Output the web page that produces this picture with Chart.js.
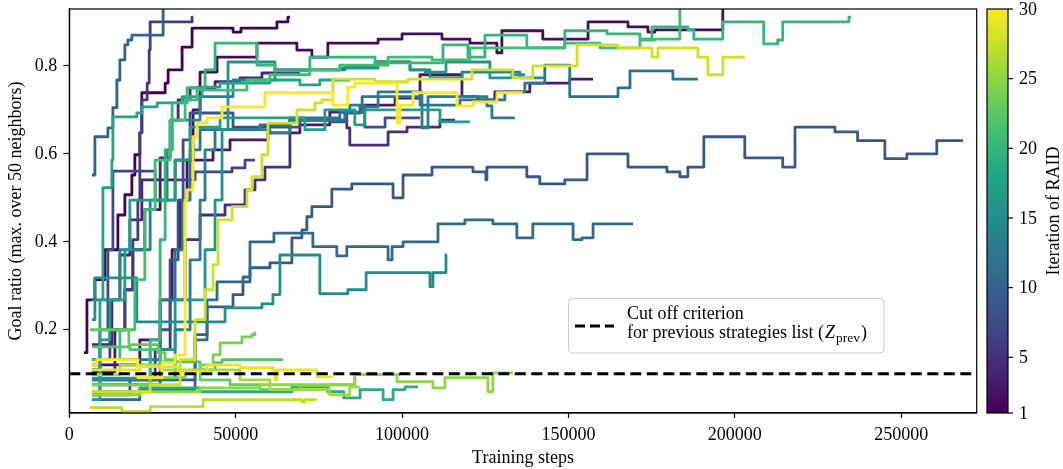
<!DOCTYPE html>
<html>
<head>
<meta charset="utf-8">
<script src="https://cdn.jsdelivr.net/npm/chart.js@4.4.1/dist/chart.umd.min.js"></script>
<style>
  html, body { margin: 0; padding: 0; background: #fff; }
  #wrap { width: 1063px; height: 469px; }
</style>
</head>
<body>
<div id="wrap"><canvas id="goalChart" width="1063" height="469"></canvas></div>
<script>
// one run per RAID iteration: [training steps (thousands), goal ratio] at each change
const run01 = [[4.4,0.148],[5.3,0.268],[7.7,0.314],[10.7,0.382],[14.6,0.461],[16.7,0.507],[18.8,0.552],[19.7,0.598],[21.2,0.648],[21.8,0.739],[28.8,0.761],[29.7,0.791],[33.9,0.843],[36.9,0.886],[49.2,0.877],[51.6,0.886],[62.4,0.900],[65.7,0.911],[66.3,0.911]];
const run02 = [[6.8,0.120],[21.2,0.177],[27.3,0.268],[30.9,0.382],[33.3,0.495],[35.4,0.586],[37.2,0.700],[39.3,0.786],[44.4,0.820],[56.4,0.852],[68.4,0.836],[72.9,0.820],[77.7,0.852],[92.8,0.861],[100.0,0.873],[112.0,0.861],[120.4,0.852],[128.5,0.830],[130.0,0.880],[142.3,0.861],[155.9,0.900],[167.9,0.889],[173.9,0.877],[176.0,0.882],[196.4,0.950],[196.5,0.950]];
const run03 = [[6.8,0.105],[13.7,0.200],[16.7,0.291],[19.1,0.382],[22.7,0.473],[27.3,0.541],[31.8,0.586],[43.2,0.609],[48.3,0.632],[59.7,0.648],[69.3,0.666],[78.3,0.695],[88.8,0.711],[97.9,0.727],[105.4,0.780],[118.0,0.730],[122.8,0.723],[127.9,0.741],[138.4,0.761],[150.4,0.770],[157.4,0.770]];
const run04 = [[6.8,0.166],[12.8,0.268],[15.2,0.370],[18.2,0.450],[21.8,0.541],[27.3,0.591],[30.3,0.677],[32.7,0.723],[36.3,0.750],[43.8,0.764],[51.3,0.773],[57.9,0.784],[69.3,0.784]];
const run05 = [[6.8,0.086],[25.8,0.155],[30.3,0.268],[34.8,0.405],[39.3,0.461],[46.8,0.484],[52.8,0.518],[55.8,0.541],[58.8,0.570],[66.3,0.677],[83.4,0.659],[84.3,0.620],[95.8,0.650],[101.5,0.661],[111.4,0.677],[115.9,0.677]];
const run06 = [[6.8,0.132],[12.2,0.200],[16.7,0.291],[19.1,0.405],[20.6,0.495],[21.2,0.648],[21.8,0.723],[23.4,0.761],[24.0,0.836],[24.3,0.900],[36.9,0.911],[37.2,0.911]];
const run07 = [[6.8,0.052],[9.2,0.200],[11.6,0.382],[13.1,0.561],[25.8,0.495],[31.8,0.541],[37.8,0.559],[48.9,0.568],[52.8,0.586],[55.8,0.586]];
const run08 = [[6.8,0.075],[27.3,0.200],[30.3,0.359],[32.7,0.495],[34.2,0.632],[36.3,0.693],[49.2,0.661],[69.3,0.677],[78.3,0.673],[83.4,0.693],[87.4,0.711],[88.8,0.661],[94.9,0.682],[105.4,0.682]];
const run09 = [[6.8,0.052],[18.2,0.086],[37.8,0.189],[41.4,0.252],[49.2,0.280],[52.2,0.309],[54.3,0.341],[60.3,0.352],[66.9,0.409],[69.9,0.427],[71.4,0.457],[72.9,0.480],[78.9,0.520],[84.9,0.532],[97.3,0.500],[100.3,0.552],[109.0,0.570],[121.3,0.559],[125.2,0.541],[125.5,0.570],[137.5,0.548],[141.4,0.532],[148.9,0.541],[155.6,0.600],[167.9,0.570],[179.6,0.559],[183.5,0.548],[185.9,0.570],[190.7,0.639],[203.0,0.591],[214.4,0.570],[218.1,0.661],[230.1,0.650],[236.9,0.630],[245.1,0.589],[251.7,0.600],[260.7,0.630],[268.6,0.630]];
const run10 = [[6.8,0.552],[7.7,0.639],[11.6,0.659],[13.1,0.705],[14.3,0.768],[15.2,0.814],[16.7,0.848],[17.6,0.859],[18.8,0.870],[28.2,0.930],[28.3,0.930]];
const run11 = [[6.8,0.041],[21.2,0.064],[37.8,0.177],[41.4,0.268],[44.4,0.309],[52.2,0.320],[54.3,0.400],[61.5,0.420],[73.2,0.389],[80.4,0.368],[83.4,0.389],[95.8,0.359],[97.0,0.389],[100.3,0.400],[110.8,0.441],[118.9,0.450],[127.3,0.441],[134.5,0.409],[139.3,0.441],[151.4,0.405],[154.1,0.409],[157.4,0.441],[169.4,0.441]];
const run12 = [[6.8,0.132],[27.3,0.268],[31.8,0.382],[33.9,0.495],[36.3,0.609],[39.3,0.655],[57.3,0.666],[66.3,0.682],[81.3,0.695],[88.0,0.730],[105.4,0.711],[117.4,0.723],[130.9,0.741],[136.9,0.761],[142.9,0.802],[150.4,0.730],[164.9,0.750],[168.5,0.789],[181.4,0.770],[188.9,0.770]];
const run13 = [[6.8,0.086],[31.8,0.200],[36.3,0.359],[39.3,0.495],[40.8,0.609],[43.8,0.655],[60.3,0.648],[66.3,0.677],[82.8,0.695],[84.3,0.711],[88.0,0.707],[92.8,0.741],[106.0,0.659],[107.8,0.730],[125.5,0.709],[127.0,0.682],[133.9,0.682]];
const run14 = [[6.8,0.268],[15.2,0.382],[24.3,0.495],[29.4,0.609],[30.9,0.677],[39.3,0.730],[49.2,0.768],[61.8,0.791],[82.8,0.798],[91.9,0.809],[102.4,0.791],[108.4,0.773],[118.0,0.786],[135.4,0.773],[142.9,0.773]];
const run15 = [[6.8,0.223],[7.7,0.318],[20.3,0.218],[46.8,0.250],[57.9,0.259],[61.2,0.280],[63.3,0.370],[75.3,0.282],[83.7,0.291],[89.2,0.330],[108.4,0.298],[109.3,0.330],[113.2,0.370],[113.5,0.370]];
const run16 = [[6.8,0.090],[24.3,0.155],[31.8,0.268],[40.8,0.382],[43.8,0.495],[45.9,0.655],[47.7,0.809],[61.8,0.791],[81.3,0.795],[92.8,0.809],[102.4,0.791],[106.9,0.786],[113.2,0.809],[126.4,0.773],[133.0,0.780],[136.9,0.780]];
const run17 = [[6.8,0.110],[9.2,0.177],[12.2,0.268],[16.7,0.382],[18.2,0.495],[31.8,0.586],[36.3,0.661],[45.3,0.682],[70.8,0.655],[76.8,0.700],[85.8,0.666],[88.8,0.700],[111.4,0.673],[120.4,0.673]];
const run18 = [[6.8,0.041],[9.2,0.268],[10.1,0.523],[12.8,0.586],[13.1,0.684],[20.3,0.693],[21.8,0.707],[26.4,0.716],[33.9,0.730],[39.9,0.752],[45.3,0.761],[60.3,0.768],[69.3,0.757],[75.3,0.768],[84.3,0.768]];
const run19 = [[6.8,0.059],[21.2,0.068],[39.3,0.059],[66.9,0.070],[77.7,0.059],[82.5,0.045],[87.4,0.064],[94.3,0.041],[97.3,0.064],[100.9,0.070],[104.8,0.070]];
const run20 = [[6.8,0.059],[24.3,0.177],[27.3,0.405],[28.8,0.609],[30.9,0.716],[35.4,0.750],[40.8,0.791],[43.8,0.852],[56.4,0.802],[61.8,0.789],[72.3,0.820],[91.9,0.807],[112.3,0.848],[119.8,0.820],[124.9,0.870],[137.5,0.841],[148.9,0.880],[161.6,0.873],[171.5,0.861],[175.1,0.889],[185.9,0.882],[187.7,0.861],[196.4,0.900],[208.7,0.850],[212.9,0.859],[214.4,0.900],[234.3,0.911],[234.9,0.911]];
const run21 = [[6.8,0.132],[15.2,0.200],[19.7,0.314],[22.7,0.473],[25.8,0.586],[30.3,0.677],[34.8,0.723],[38.4,0.745],[53.4,0.768],[60.3,0.780],[72.3,0.791],[81.3,0.802],[95.8,0.820],[109.0,0.814],[120.4,0.841],[148.9,0.852],[159.5,0.841],[171.5,0.859],[176.0,0.861],[183.5,0.950],[183.6,0.950]];
const run22 = [[6.8,0.161],[18.2,0.155],[27.3,0.127],[39.3,0.109],[43.8,0.125],[45.9,0.132],[64.2,0.132]];
const run23 = [[6.2,0.200],[17.9,0.166],[26.7,0.148],[28.8,0.132],[31.8,0.105],[39.3,0.086],[48.3,0.075],[57.3,0.064],[69.3,0.073],[78.3,0.075],[85.8,0.098],[99.4,0.098]];
const run24 = [[6.8,0.075],[24.3,0.091],[34.8,0.105],[39.3,0.120],[43.2,0.143],[45.3,0.170],[51.9,0.184],[54.9,0.189],[55.8,0.193],[56.1,0.193]];
const run25 = [[6.8,0.052],[21.2,0.059],[39.3,0.068],[57.3,0.075],[84.3,0.070],[85.8,0.098],[98.5,0.082],[109.3,0.068],[112.9,0.091],[125.8,0.059],[127.3,0.102],[133.3,0.102]];
const run26 = [[6.8,0.098],[15.2,0.120],[27.3,0.109],[51.3,0.086],[60.3,0.064],[78.3,0.052],[84.3,0.070],[87.4,0.070]];
const run27 = [[6.2,0.023],[15.8,0.014],[24.3,0.025],[40.2,0.041],[69.9,0.036],[70.8,0.041],[74.4,0.041]];
const run28 = [[6.8,0.059],[24.3,0.075],[33.3,0.132],[37.8,0.223],[40.8,0.291],[43.2,0.348],[44.7,0.450],[48.9,0.480],[53.4,0.518],[54.9,0.548],[57.9,0.598],[59.7,0.670],[68.4,0.700],[73.8,0.716],[75.9,0.723],[79.2,0.770],[91.9,0.764],[101.8,0.770],[121.0,0.791],[133.3,0.773],[139.3,0.800],[152.6,0.848],[164.9,0.841],[175.1,0.820],[176.9,0.841],[188.9,0.820],[191.9,0.780],[196.4,0.820],[203.0,0.820]];
const run29 = [[6.8,0.109],[21.2,0.116],[32.7,0.105],[41.4,0.120],[51.3,0.114],[61.2,0.109],[61.8,0.086],[62.4,0.109],[74.4,0.093],[79.2,0.093]];
const run30 = [[6.8,0.120],[8.3,0.132],[20.6,0.091],[27.9,0.125],[31.8,0.143],[34.8,0.495],[35.4,0.518],[37.2,0.639],[38.4,0.670],[41.4,0.682],[45.9,0.707],[58.8,0.739],[79.2,0.711],[83.7,0.752],[85.8,0.761],[98.5,0.670],[99.4,0.711],[103.3,0.739],[116.5,0.709],[121.3,0.718],[128.5,0.739],[136.3,0.739]];

const runs = [run01, run02, run03, run04, run05, run06, run07, run08, run09, run10,
              run11, run12, run13, run14, run15, run16, run17, run18, run19, run20,
              run21, run22, run23, run24, run25, run26, run27, run28, run29, run30];
const iterations = [1, 2, 3, 4, 5, 6, 7, 8, 9, 10, 11, 12, 13, 14, 15, 16, 17, 18, 19, 20,
                    21, 22, 23, 24, 25, 26, 27, 28, 29, 30];
const cutoffRatio = 0.1;
const xTicks = [0, 50000, 100000, 150000, 200000, 250000];
const yTicks = [0.2, 0.4, 0.6, 0.8];
const cbTicks = [1, 5, 10, 15, 20, 25, 30];

const xMax = 272700;
const FONT = "'Liberation Serif', 'Times New Roman', serif";

// viridis colormap
const viridisStops = ['#440154', '#482475', '#414487', '#355f8d', '#2a788e', '#21918c',
                      '#22a884', '#44bf70', '#7ad151', '#bddf26', '#fde725'];
function hexRgb(h) {
    return [parseInt(h.slice(1, 3), 16), parseInt(h.slice(3, 5), 16), parseInt(h.slice(5, 7), 16)];
}
function viridis(t) {
    t = Math.min(1, Math.max(0, t));
    const p = t * (viridisStops.length - 1);
    const k = Math.min(Math.floor(p), viridisStops.length - 2);
    const f = p - k;
    const a = hexRgb(viridisStops[k]), b = hexRgb(viridisStops[k + 1]);
    const c = a.map((v, j) => Math.round(v + (b[j] - v) * f));
    return 'rgb(' + c.join(',') + ')';
}
function iterColor(i) { return viridis((i - 1) / 29); }

const datasets = runs.map((run, k) => ({
    label: 'Iteration ' + iterations[k],
    data: run.map(p => ({ x: p[0] * 1000, y: p[1] })),
    borderColor: iterColor(iterations[k]),
    borderWidth: 2.8,
    borderJoinStyle: 'round',
    stepped: true,
    pointRadius: 0,
    fill: false,
    order: 31 - iterations[k]
}));
datasets.push({
    label: 'Cut off criterion',
    data: [{ x: 0, y: cutoffRatio }, { x: xMax, y: cutoffRatio }],
    borderColor: '#000',
    borderWidth: 2.8,
    borderDash: [11, 5.5],
    pointRadius: 0,
    fill: false,
    order: 0
});

const overlay = {
    id: 'overlay',
    afterDraw(chart) {
        const ctx = chart.ctx;
        const a = chart.chartArea;
        ctx.save();

        // axes frame
        ctx.strokeStyle = '#000';
        ctx.lineWidth = 1.2;
        ctx.strokeRect(a.left, a.top, a.right - a.left, a.bottom - a.top);

        // colorbar
        const cbL = a.right + 10.3, cbW = 21, cbT = a.top, cbB = a.bottom;
        const grad = ctx.createLinearGradient(0, cbB, 0, cbT);
        for (let k = 0; k <= 40; k++) grad.addColorStop(k / 40, viridis(k / 40));
        ctx.fillStyle = grad;
        ctx.fillRect(cbL, cbT, cbW, cbB - cbT);
        ctx.strokeRect(cbL, cbT, cbW, cbB - cbT);
        ctx.font = '18px ' + FONT;
        ctx.fillStyle = '#000';
        ctx.textAlign = 'left';
        ctx.textBaseline = 'middle';
        cbTicks.forEach(v => {
            const y = cbB - (v - 1) / 29 * (cbB - cbT);
            ctx.beginPath();
            ctx.moveTo(cbL + cbW, y);
            ctx.lineTo(cbL + cbW + 5, y);
            ctx.stroke();
            ctx.fillText(String(v), cbL + cbW + 11, y + 1);
        });
        ctx.save();
        ctx.translate(cbL + cbW + 46, (cbT + cbB) / 2);
        ctx.rotate(-Math.PI / 2);
        ctx.textAlign = 'center';
        ctx.fillText('Iteration of RAID', 0, 0);
        ctx.restore();

        // legend
        ctx.beginPath();
        ctx.roundRect(568.5, 298.5, 315.5, 54.5, 4);
        ctx.fillStyle = 'rgba(255,255,255,0.8)';
        ctx.fill();
        ctx.strokeStyle = '#cccccc';
        ctx.lineWidth = 1;
        ctx.stroke();

        ctx.strokeStyle = '#000';
        ctx.lineWidth = 2.8;
        ctx.setLineDash([10, 5]);
        ctx.beginPath();
        ctx.moveTo(575, 326);
        ctx.lineTo(614, 326);
        ctx.stroke();
        ctx.setLineDash([]);

        ctx.fillStyle = '#000';
        ctx.textAlign = 'left';
        ctx.textBaseline = 'alphabetic';
        ctx.font = '18px ' + FONT;
        ctx.fillText('Cut off criterion', 627, 319);
        let tx = 627;
        const line2 = 'for previous strategies list (';
        ctx.fillText(line2, tx, 338);
        tx += ctx.measureText(line2).width + 1;
        ctx.font = 'italic 18px ' + FONT;
        ctx.fillText('Z', tx, 338);
        tx += ctx.measureText('Z').width + 1;
        ctx.font = '13.5px ' + FONT;
        ctx.fillText('prev', tx, 342);
        tx += ctx.measureText('prev').width + 1;
        ctx.font = '18px ' + FONT;
        ctx.fillText(')', tx, 338);

        ctx.restore();
    }
};

Chart.defaults.font.family = FONT;
Chart.defaults.font.size = 18;
Chart.defaults.color = '#000';

new Chart(document.getElementById('goalChart').getContext('2d'), {
    type: 'line',
    data: { datasets: datasets },
    options: {
        responsive: false,
        animation: false,
        events: [],
        layout: { padding: { top: 9, right: 86.3, left: 0, bottom: 0 } },
        plugins: {
            legend: { display: false },
            tooltip: { enabled: false }
        },
        scales: {
            x: {
                type: 'linear',
                min: 0,
                max: xMax,
                afterBuildTicks: s => { s.ticks = xTicks.map(v => ({ value: v })); },
                ticks: { callback: v => String(v), padding: 6, maxRotation: 0, autoSkip: false },
                grid: { drawOnChartArea: false, drawTicks: true, tickLength: 5, color: '#000', tickWidth: 1.2 },
                border: { display: true, color: '#000', width: 1.2 },
                title: { display: true, text: 'Training steps', padding: { top: 0, bottom: 0 } },
                afterFit: s => { s.height = 56; s.paddingLeft = 0; s.paddingRight = 0; }
            },
            y: {
                min: 0.0107,
                max: 0.9295,
                afterBuildTicks: s => { s.ticks = yTicks.map(v => ({ value: v })); },
                ticks: { callback: v => v.toFixed(1), padding: 6 },
                grid: { drawOnChartArea: false, drawTicks: true, tickLength: 6, color: '#000', tickWidth: 1.2 },
                border: { display: true, color: '#000', width: 1.2 },
                title: { display: true, text: 'Goal ratio (max. over 50 neighbors)', padding: { top: 5, bottom: 0 } },
                afterFit: s => { s.width = 69.3; s.paddingTop = 0; s.paddingBottom = 0; }
            }
        }
    },
    plugins: [overlay]
});
</script>
</body>
</html>
